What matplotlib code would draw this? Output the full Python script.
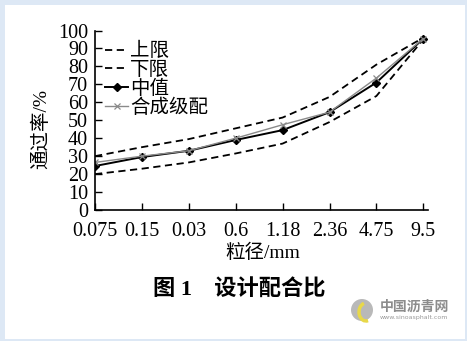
import matplotlib.pyplot as plt
from matplotlib.patches import Rectangle, Ellipse, Arc

# sieve sizes (categorical x) and passing percentages
sizes = ["0.075", "0.15", "0.03", "0.6", "1.18", "2.36", "4.75", "9.5"]
upper = [30, 35, 39.5, 45.5, 51.5, 63, 81, 96]
lower = [20, 23, 26.5, 31.5, 37, 49, 63.5, 95]
median = [24.5, 29.5, 33, 39, 44.5, 54.5, 71, 95.5]
composite = [26.5, 30, 33, 40, 47.5, 54.5, 73.5, 95.5]
yticks = [0, 10, 20, 30, 40, 50, 60, 70, 80, 90, 100]

serif_cjk = ["Liberation Serif", "Noto Sans CJK SC"]
plt.rcParams["font.family"] = serif_cjk

W, H = 467, 341
fig = plt.figure(figsize=(W / 100, H / 100), dpi=100, facecolor="#dde8f5")
fig.patches.append(Rectangle((5 / W, 2 / H), 460 / W, 334 / H, transform=fig.transFigure,
                             facecolor="white", edgecolor="none", zorder=-5))

ax = fig.add_axes([95 / W, 1 - 210 / H, 333 / W, 179.5 / H])
ax.set_facecolor("none")
x = list(range(len(sizes)))

ax.plot(x, upper, color="black", lw=1.3, ls=(0, (4, 2.5)), label="上限")
ax.plot(x, lower, color="black", lw=1.3, ls=(0, (4, 2.5)), label="下限")
ax.plot(x, median, color="black", lw=1.4, marker="D", ms=4.5, label="中值")
ax.plot(x, composite, color="#8a8a8a", lw=1.0, marker="x", ms=5, mew=0.9, label="合成级配")

ax.set_xlim(0, 7.1)
ax.set_ylim(0, 100)
ax.set_xticks(x)
ax.set_xticklabels(sizes)
ax.set_yticks(yticks)
ax.tick_params(direction="in", length=5, width=1, labelsize=14.5, colors="black")
ax.tick_params(axis="x", pad=9)
ax.tick_params(axis="y", pad=5)
for s in ["top", "right"]:
    ax.spines[s].set_visible(False)
for s in ["left", "bottom"]:
    ax.spines[s].set_linewidth(1.2)

ax.set_ylabel("通过率/%", fontsize=14)
ax.yaxis.set_label_coords(-0.135, 0.45)

leg = ax.legend(loc="upper left", bbox_to_anchor=(0.03, 0.935), frameon=False, fontsize=14,
                handlelength=1.2, handletextpad=0.1, labelspacing=0.04,
                borderpad=0, borderaxespad=0)

fig.text(263 / W, 1 - 253 / H, "粒径/mm", ha="center", va="center", fontsize=14)
fig.text(239 / W, 1 - 289 / H, "图 1　设计配合比", ha="center", va="center",
         fontsize=16, fontweight="bold")

# watermark
fig.patches.append(Ellipse((362 / W, 1 - 310 / H), 22 / W, 22 / H, transform=fig.transFigure,
                           facecolor="#a8a8a8", edgecolor="none", alpha=0.8))
fig.patches.append(Arc((366 / W, 1 - 312 / H), 14 / W, 18 / H, theta1=100, theta2=280,
                       transform=fig.transFigure, color="#e8d84a", lw=2.5))
fig.text(414 / W, 1 - 307 / H, "中国沥青网", ha="center", va="center", fontsize=10,
         fontweight="bold", color="#8c8c8c", family="Noto Sans CJK SC")
fig.text(414 / W, 1 - 318 / H, "www.sinoasphalt.com", ha="center", va="center", fontsize=4.5,
         color="#9a9a9a", family="DejaVu Sans")

fig.savefig("out.png", dpi=100, facecolor=fig.get_facecolor())
